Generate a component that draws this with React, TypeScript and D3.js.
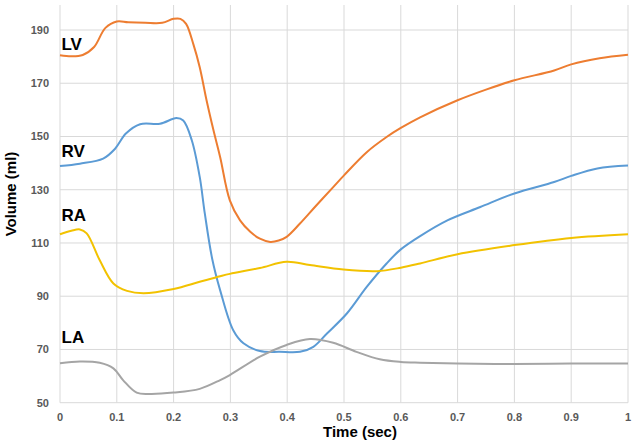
import React from "react";
import * as d3 from "d3";

const xTicks = [0, 0.1, 0.2, 0.3, 0.4, 0.5, 0.6, 0.7, 0.8, 0.9, 1];
const yTicks = [50, 70, 90, 110, 130, 150, 170, 190];

const lvData: [number, number][] = [
  [0, 180.5], [0.02, 180.1], [0.04, 180.6], [0.06, 183.6], [0.08, 190.8], [0.1, 193.2],
  [0.12, 192.9], [0.15, 192.7], [0.18, 192.7], [0.2, 194.2], [0.212, 194.2], [0.222, 192.3],
  [0.235, 184.5], [0.246, 176], [0.258, 163.6], [0.27, 152.5], [0.282, 142.2], [0.299, 126],
  [0.317, 118.5], [0.335, 114.2], [0.352, 111.6], [0.37, 110.4], [0.385, 110.9], [0.399, 112.3],
  [0.4225, 117.3], [0.45, 123.8], [0.481, 131], [0.5, 135.4], [0.54, 144.1], [0.575, 149.8],
  [0.6, 153.2], [0.634, 157.2], [0.7, 163.6], [0.75, 167.6], [0.8, 171.1], [0.87, 174.8],
  [0.9, 177.1], [0.95, 179.4], [1.0, 180.7],
];

const rvData: [number, number][] = [
  [0, 138.9], [0.035, 139.8], [0.076, 141.7], [0.097, 145.4], [0.116, 151.1], [0.141, 154.6],
  [0.176, 154.8], [0.205, 156.9], [0.217, 156], [0.232, 148.6], [0.246, 134.8], [0.255, 121],
  [0.268, 104], [0.282, 92.2], [0.305, 77.2], [0.323, 72.3], [0.352, 69.4], [0.387, 69.1],
  [0.4225, 69.1], [0.446, 71], [0.47, 76], [0.505, 83.5], [0.54, 93.5], [0.575, 102.3],
  [0.6, 107.6], [0.634, 112.6], [0.682, 118.5], [0.74, 123.5], [0.8, 128.6], [0.87, 132.9],
  [0.9, 135.2], [0.946, 138], [1.0, 139.1],
];

const raData: [number, number][] = [
  [0, 113.3], [0.02, 114.6], [0.035, 115.1], [0.047, 113.6], [0.07, 103.5], [0.094, 94.8],
  [0.118, 92], [0.147, 91.1], [0.2, 92.7], [0.246, 95.4], [0.282, 97.5], [0.299, 98.4],
  [0.352, 100.6], [0.399, 102.9], [0.44, 101.7], [0.499, 100], [0.558, 99.4], [0.6, 100.7],
  [0.634, 102.3], [0.7, 105.8], [0.8, 109.2], [0.9, 111.9], [1.0, 113.3],
];

const laData: [number, number][] = [
  [0, 64.8], [0.035, 65.5], [0.07, 65], [0.094, 62.9], [0.111, 58.5], [0.135, 53.8],
  [0.158, 53.3], [0.2, 53.8], [0.246, 55.2], [0.282, 58.5], [0.299, 60.4], [0.352, 67.3],
  [0.399, 71.7], [0.44, 73.9], [0.481, 72.5], [0.522, 69.1], [0.563, 66.3], [0.6, 65.3],
  [0.634, 65], [0.7, 64.7], [0.8, 64.5], [0.9, 64.7], [1.0, 64.7],
];

const seriesNames = ["LV", "RV", "RA", "LA"];
const seriesData = [lvData, rvData, raData, laData];
const seriesColors = ["#ED7D31", "#5B9BD5", "#F2C200", "#A5A5A5"];

export default function App() {
  const width = 634;
  const height = 443;
  const x = d3.scaleLinear().domain([0, 1]).range([60, 628]);
  const y = d3.scaleLinear().domain([50, 190]).range([402.7, 30]);
  const line = d3
    .line<[number, number]>()
    .x((d) => x(d[0]))
    .y((d) => y(d[1]))
    .curve(d3.curveCatmullRom.alpha(0.5));
  const font = "'Liberation Sans', Arial, sans-serif";
  const top = 5;
  const labelY = [50, 157, 220.5, 343];

  return (
    <svg
      width={width}
      height={height}
      style={{ position: "absolute", left: 0, top: 0, background: "#fff" }}
      fontFamily={font}
    >
      {xTicks.map((t) => (
        <line key={"vx" + t} x1={x(t)} x2={x(t)} y1={top} y2={y(50)} stroke="#d9d9d9" strokeWidth={1} />
      ))}
      {yTicks.map((t) => (
        <line key={"hy" + t} x1={x(0)} x2={x(1)} y1={y(t)} y2={y(t)} stroke="#d9d9d9" strokeWidth={1} />
      ))}
      {yTicks.map((t) => (
        <text key={"ly" + t} x={49} y={y(t) + 4} textAnchor="end" fontSize={11} fontWeight="bold" fill="#595959">
          {t}
        </text>
      ))}
      {xTicks.map((t) => (
        <text key={"lx" + t} x={x(t)} y={420.5} textAnchor="middle" fontSize={11} fontWeight="bold" fill="#595959">
          {String(t)}
        </text>
      ))}
      {seriesData.map((d, i) => (
        <path key={seriesNames[i]} d={line(d) || ""} fill="none" stroke={seriesColors[i]} strokeWidth={2} />
      ))}
      {seriesNames.map((n, i) => (
        <text key={"n" + n} x={61.5} y={labelY[i]} fontSize={17} fontWeight="bold" fill="#000">
          {n}
        </text>
      ))}
      <text x={360} y={437} textAnchor="middle" fontSize={15} fontWeight="bold" fill="#000">
        Time (sec)
      </text>
      <text
        transform="translate(16,194) rotate(-90)"
        textAnchor="middle"
        fontSize={15}
        fontWeight="bold"
        fill="#000"
      >
        Volume (ml)
      </text>
    </svg>
  );
}
